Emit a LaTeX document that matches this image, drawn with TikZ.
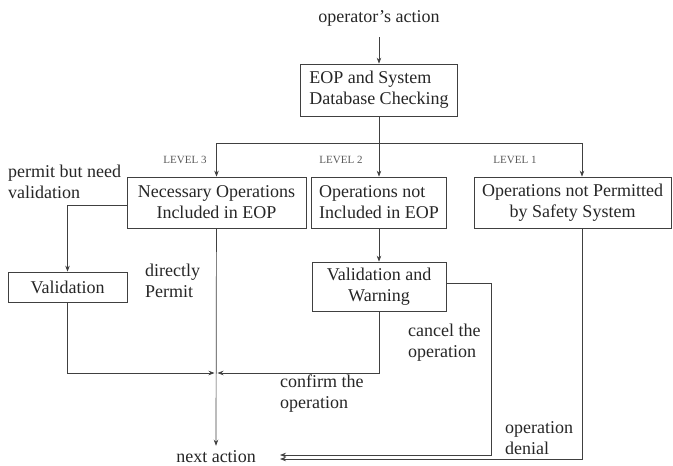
\documentclass[tikz,border=0pt]{standalone}
\usepackage{fontspec}
\setmainfont{Liberation Serif}
\usepackage{tikz}
\usetikzlibrary{shapes}
\usetikzlibrary{calc,arrows.meta}
\usepackage{xcolor}
\tikzstyle{txt}=[inner sep=0pt, text=black!85, font=\fontsize{18}{21}\selectfont, align=left]
\tikzstyle{box}=[draw=black!75, line width=0.7pt, inner sep=2pt, text=black!85, font=\fontsize{18}{21}\selectfont]
\tikzstyle{lvl}=[inner sep=0pt, text=black!65, font=\fontsize{11}{12}\selectfont]
\tikzstyle{flow}=[-{Stealth[length=6pt,width=4.5pt]}, draw=black!75, line width=0.7pt]

\begin{document}
\begin{tikzpicture}[x=1pt, y=-1pt]
\useasboundingbox (0,0) rectangle (673,466);
\node[txt] (op) at (379,18) {operator's action};
\node[box, minimum width=157pt, minimum height=52pt, align=left] (eop) at (379,90) {EOP and System\\Database Checking};
\node[box, minimum width=179pt, minimum height=51pt, align=center] (nec) at (216.5,202.5) {Necessary Operations\\Included in EOP};
\node[box, minimum width=135pt, minimum height=51pt, align=left] (notinc) at (379,202.5) {Operations not\\Included in EOP};
\node[box, minimum width=197pt, minimum height=51pt, align=center] (notperm) at (572.5,202.5) {Operations not Permitted\\by Safety System};
\node[box, minimum width=119pt, minimum height=30pt] (val) at (67.5,287) {Validation};
\node[box, minimum width=134pt, minimum height=49pt, align=center] (vw) at (379,286.5) {Validation and\\Warning};
\node[txt] (nxt) at (216,457) {next action};
\foreach \x/\n in {185/3,341/2,515/1} {
	\node[lvl] (lv\n) at (\x,160) {LEVEL \n};
}
\node[txt, anchor=west] (pbn) at (8,182) {permit but need\\validation};
\node[txt, anchor=west] (dp) at (145,281) {directly\\Permit};
\node[txt, anchor=west] (ctop) at (408,342.5) {cancel the\\operation};
\node[txt, anchor=west] (cfop) at (280,394) {confirm the\\operation};
\node[txt, anchor=west] (opd) at (505,438) {operation\\denial};
% fork and joins
\coordinate (fork) at (379,143);
\coordinate (l1) at (582,143);
\coordinate (mrg) at (216,373);
\coordinate (cnl) at (491,455);
\coordinate (nin1) at (280,455);
\coordinate (nin2) at (280,459);
\draw[flow] (op) ++(0,19) -- (eop);
\draw[flow] (eop) -- (notinc);
\draw[flow] (fork) -| (nec);
\draw[flow] (fork) -| (l1) -- (l1|-notperm.north);
\draw[flow] ([yshift=-2.5pt]nec.west) -| (val);
\draw[flow] (nec) -- ([yshift=5pt]nxt.north);
\draw[flow] (notinc) -- (vw);
\draw[flow] (val) |- ([xshift=-1.5pt]mrg);
\draw[flow] (vw) |- ([xshift=1.5pt]mrg);
\draw[flow] ([yshift=3.5pt]vw.east) -| (cnl) -- (nin1);
\draw[flow] (l1|-notperm.south) |- (nin2);
\end{tikzpicture}
\end{document}
